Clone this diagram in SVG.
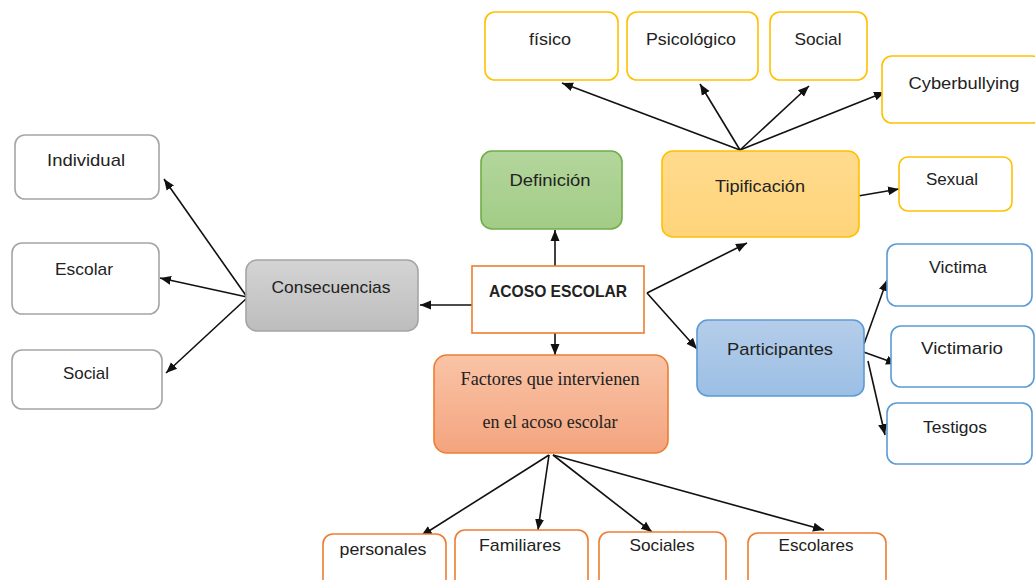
<svg xmlns="http://www.w3.org/2000/svg" width="1035" height="580" viewBox="0 0 1035 580">
<style>
text{font-family:"Liberation Sans",Arial,sans-serif;font-size:17px;fill:#222;text-anchor:middle}
.serif{font-family:"Liberation Serif","Times New Roman",serif;font-size:18px}
.bold{font-weight:bold}
.y{fill:#fff;stroke:#ffc000;stroke-width:1.6}
.b{fill:#fff;stroke:#5b9bd5;stroke-width:1.6}
.o{fill:#fff;stroke:#ed7d31;stroke-width:1.6}
.g{fill:#fff;stroke:#a5a5a5;stroke-width:1.6}
.c line{stroke:#111;stroke-width:1.6;marker-end:url(#ah)}
</style>
<defs>
<marker id="ah" markerUnits="userSpaceOnUse" markerWidth="12" markerHeight="12" viewBox="0 0 12 12" refX="11" refY="6" orient="auto">
<path d="M0,1.5 L11,6 L0,10.5 Z" fill="#111"/>
</marker>
<linearGradient id="gG" x1="0" y1="0" x2="0" y2="1"><stop offset="0" stop-color="#b3d69c"/><stop offset="1" stop-color="#a2cc86"/></linearGradient>
<linearGradient id="gY" x1="0" y1="0" x2="0" y2="1"><stop offset="0" stop-color="#ffdb8e"/><stop offset="1" stop-color="#ffd47a"/></linearGradient>
<linearGradient id="gB" x1="0" y1="0" x2="0" y2="1"><stop offset="0" stop-color="#b5cdea"/><stop offset="1" stop-color="#9bbfe4"/></linearGradient>
<linearGradient id="gS" x1="0" y1="0" x2="0" y2="1"><stop offset="0" stop-color="#d4d4d4"/><stop offset="1" stop-color="#bdbdbd"/></linearGradient>
<linearGradient id="gO" x1="0" y1="0" x2="0" y2="1"><stop offset="0" stop-color="#f9c4a6"/><stop offset="1" stop-color="#f4a47f"/></linearGradient>
</defs>

<g class="c" id="connectors">
<line x1="555" y1="266" x2="555" y2="230"/>
<line x1="647" y1="293" x2="747" y2="243"/>
<line x1="647" y1="293" x2="697" y2="349"/>
<line x1="472" y1="305" x2="420" y2="305"/>
<line x1="555" y1="333" x2="555" y2="355"/>
<line x1="247" y1="297" x2="164" y2="179"/>
<line x1="247" y1="297" x2="160" y2="278"/>
<line x1="247" y1="298" x2="166" y2="373"/>
<line x1="740" y1="150" x2="562" y2="83"/>
<line x1="740" y1="150" x2="700" y2="84"/>
<line x1="740" y1="150" x2="809" y2="86"/>
<line x1="740" y1="150" x2="885" y2="92"/>
<line x1="858" y1="196" x2="899" y2="189"/>
<line x1="864" y1="344" x2="887" y2="280"/>
<line x1="858" y1="350" x2="897" y2="364"/>
<line x1="868" y1="361" x2="885" y2="435"/>
<line x1="549" y1="455" x2="421" y2="536"/>
<line x1="549" y1="455" x2="538" y2="530"/>
<line x1="553" y1="455" x2="652" y2="532"/>
<line x1="553" y1="455" x2="824" y2="530"/>
</g>

<g id="acoso"><rect x="472" y="266" width="172" height="67" class="o"/><text x="558" y="297" class="bold" textLength="138" lengthAdjust="spacingAndGlyphs">ACOSO ESCOLAR</text></g>
<g id="definicion"><rect x="481" y="151" width="141" height="78" rx="11" fill="url(#gG)" stroke="#70ad47" stroke-width="1.6"/><text x="550" y="186" textLength="81" lengthAdjust="spacingAndGlyphs">Definición</text></g>
<g id="tipificacion"><rect x="662" y="151" width="197" height="86" rx="11" fill="url(#gY)" stroke="#ffc000" stroke-width="1.6"/><text x="760" y="192" textLength="90" lengthAdjust="spacingAndGlyphs">Tipificación</text></g>
<g id="participantes"><rect x="697" y="320" width="167" height="76" rx="11" fill="url(#gB)" stroke="#5b9bd5" stroke-width="1.6"/><text x="780" y="355" textLength="106" lengthAdjust="spacingAndGlyphs">Participantes</text></g>
<g id="consecuencias"><rect x="246" y="260" width="172" height="71" rx="11" fill="url(#gS)" stroke="#a5a5a5" stroke-width="1.6"/><text x="331" y="293" textLength="119" lengthAdjust="spacingAndGlyphs">Consecuencias</text></g>
<g id="factores"><rect x="434" y="355" width="234" height="98" rx="13" fill="url(#gO)" stroke="#ed7d31" stroke-width="1.6"/><text x="550" y="385" class="serif" textLength="179" lengthAdjust="spacingAndGlyphs">Factores que intervienen</text><text x="550" y="428" class="serif" textLength="135" lengthAdjust="spacingAndGlyphs">en el acoso escolar</text></g>

<g id="individual"><rect x="15" y="135" width="144" height="64" rx="10" class="g"/><text x="86" y="166" textLength="78" lengthAdjust="spacingAndGlyphs">Individual</text></g>
<g id="escolar"><rect x="12" y="243" width="147" height="71" rx="10" class="g"/><text x="84" y="275" textLength="58" lengthAdjust="spacingAndGlyphs">Escolar</text></g>
<g id="social-c"><rect x="12" y="350" width="150" height="59" rx="10" class="g"/><text x="86" y="379" textLength="46" lengthAdjust="spacingAndGlyphs">Social</text></g>

<g id="fisico"><rect x="485" y="12" width="133" height="68" rx="10" class="y"/><text x="550" y="45" textLength="42" lengthAdjust="spacingAndGlyphs">físico</text></g>
<g id="psicologico"><rect x="627" y="12" width="131" height="68" rx="10" class="y"/><text x="691" y="45" textLength="90" lengthAdjust="spacingAndGlyphs">Psicológico</text></g>
<g id="social-t"><rect x="770" y="12" width="97" height="68" rx="10" class="y"/><text x="818" y="45" textLength="47" lengthAdjust="spacingAndGlyphs">Social</text></g>
<g id="cyberbullying"><rect x="882" y="56" width="160" height="67" rx="10" class="y"/><text x="964" y="89" textLength="111" lengthAdjust="spacingAndGlyphs">Cyberbullying</text></g>
<g id="sexual"><rect x="899" y="157" width="113" height="54" rx="9" class="y"/><text x="952" y="185" textLength="52" lengthAdjust="spacingAndGlyphs">Sexual</text></g>

<g id="victima"><rect x="887" y="244" width="145" height="62" rx="10" class="b"/><text x="958" y="273" textLength="58" lengthAdjust="spacingAndGlyphs">Victima</text></g>
<g id="victimario"><rect x="891" y="326" width="143" height="61" rx="10" class="b"/><text x="962" y="354" textLength="82" lengthAdjust="spacingAndGlyphs">Victimario</text></g>
<g id="testigos"><rect x="887" y="403" width="145" height="61" rx="10" class="b"/><text x="955" y="433" textLength="64" lengthAdjust="spacingAndGlyphs">Testigos</text></g>

<g id="personales"><rect x="323" y="534" width="123" height="60" rx="10" class="o"/><text x="383" y="555" textLength="87" lengthAdjust="spacingAndGlyphs">personales</text></g>
<g id="familiares"><rect x="455" y="530" width="133" height="64" rx="10" class="o"/><text x="520" y="551" textLength="82" lengthAdjust="spacingAndGlyphs">Familiares</text></g>
<g id="sociales"><rect x="599" y="532" width="127" height="62" rx="10" class="o"/><text x="662" y="551" textLength="65" lengthAdjust="spacingAndGlyphs">Sociales</text></g>
<g id="escolares"><rect x="748" y="533" width="138" height="61" rx="10" class="o"/><text x="816" y="551" textLength="75" lengthAdjust="spacingAndGlyphs">Escolares</text></g>
</svg>
